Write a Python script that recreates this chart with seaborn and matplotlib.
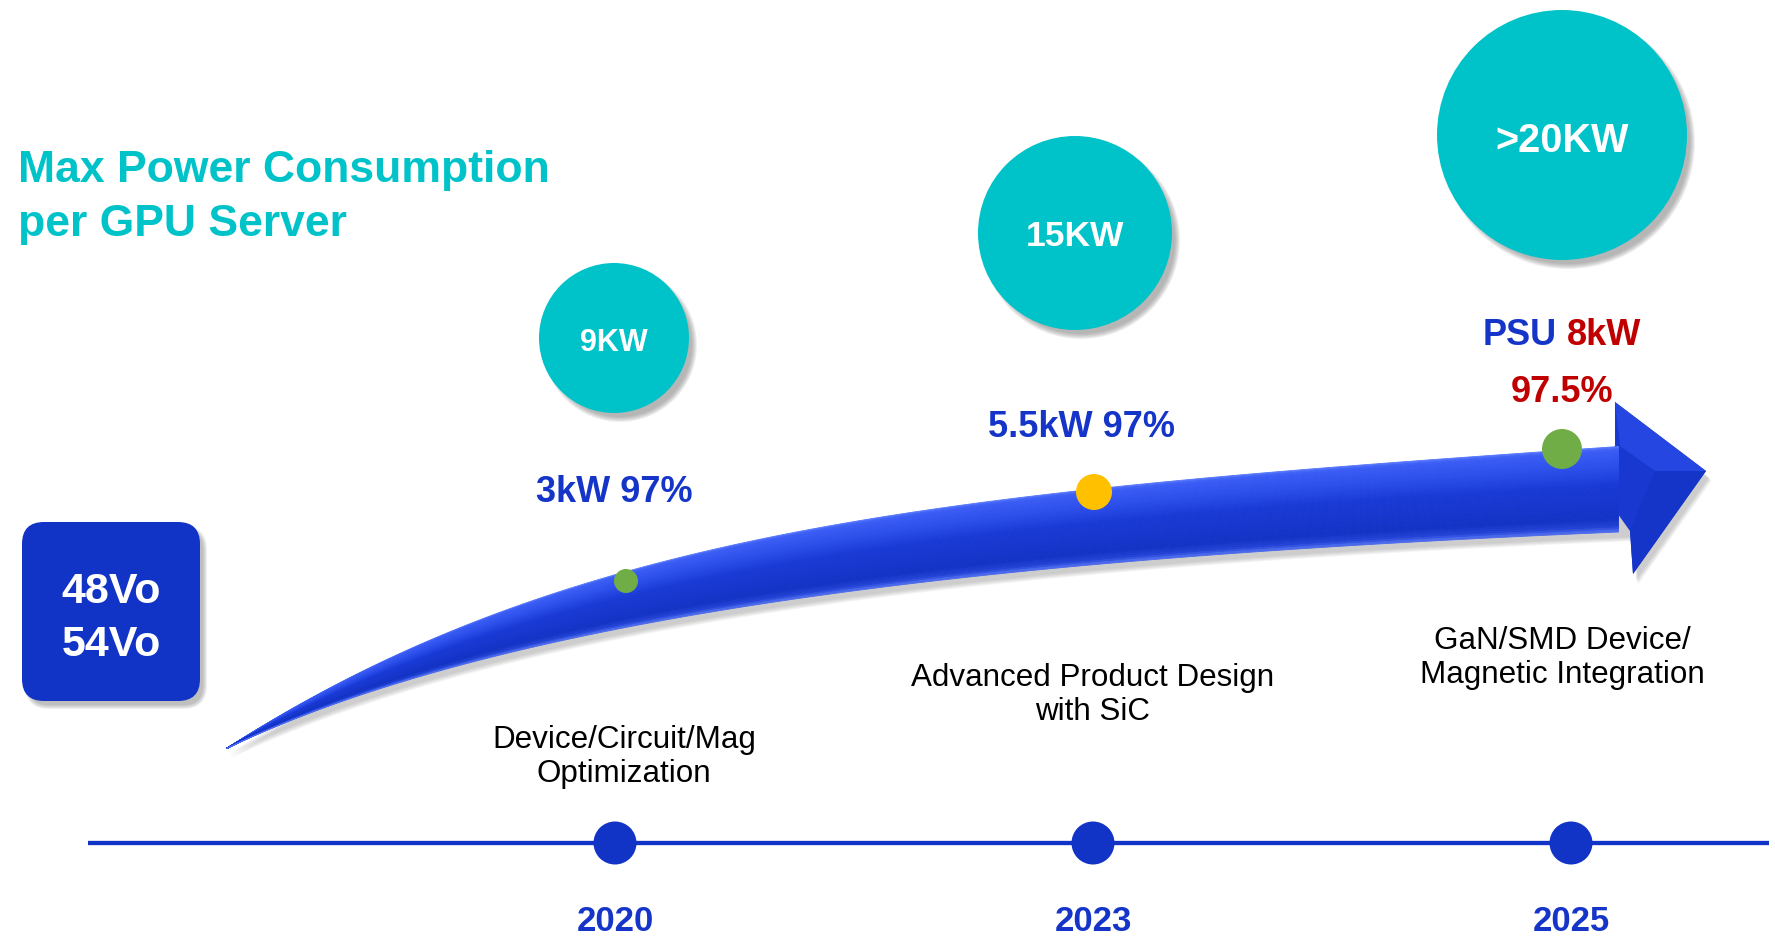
import numpy as np
import matplotlib
matplotlib.use("Agg")
import matplotlib.pyplot as plt
import seaborn as sns
import pandas as pd
from matplotlib.patches import Circle, FancyBboxPatch, Polygon
from matplotlib.colors import LinearSegmentedColormap

# ---------------- data ----------------
years = ["2020", "2023", "2025"]
server_power = ["9KW", "15KW", ">20KW"]
psu_power = ["3kW", "5.5kW", "8kW"]
psu_eff = ["97%", "97%", "97.5%"]
descriptions = ["Device/Circuit/Mag\nOptimization",
                "Advanced Product Design\nwith SiC",
                "GaN/SMD Device/\nMagnetic Integration"]
dot_colors = ["#70AD47", "#FFC000", "#70AD47"]
voltages = ["48Vo", "54Vo"]
title_lines = ["Max Power Consumption", "per GPU Server"]

# ---------------- layout (pixel space) ----------------
W, H = 1775, 937
year_x = [615, 1093, 1571]
line_y = 844
circ_x = [614, 1075, 1562]
circ_y = [339, 234, 136]
circ_r = [75, 97, 125]
circ_fs = [22, 25.5, 28.5]
circ_base = [351, 246, 152]
dot_x = [626, 1094, 1562]
dot_y = [582, 493, 450]
dot_r = [12, 18, 20]
desc_x = [624, 1093, 1562]
desc_base = [748, 686, 649]

BLUE = "#1133C6"
TXT_BLUE = "#1535C8"
RED = "#C00000"
TEAL = "#00C3C9"

sns.set_theme(style="white")
plt.rcParams["font.family"] = ["Liberation Sans", "DejaVu Sans"]

fig = plt.figure(figsize=(W / 100, H / 100), dpi=100)
ax = fig.add_axes([0, 0, 1, 1])
fig.patch.set_facecolor("white")


def soft_shadow_circle(cx, cy, r, dx=6, dy=7):
    for k in range(6):
        ax.add_patch(Circle((cx + dx, cy + dy), r + 2 - k, color="#6a6a6a",
                            alpha=0.1, lw=0, zorder=1))


# ---------------- title ----------------
ax.text(18, 182, title_lines[0], fontsize=32, fontweight="bold", color=TEAL,
        ha="left", va="baseline", zorder=10)
ax.text(18, 236, title_lines[1], fontsize=32, fontweight="bold", color=TEAL,
        ha="left", va="baseline", zorder=10)

# ---------------- voltage box ----------------
bx0, by0, bx1, by1, rad = 22, 523, 200, 702, 22
for k in range(5):
    ax.add_patch(FancyBboxPatch((bx0 + rad + 5, by0 + rad + 6),
                                bx1 - bx0 - 2 * rad, by1 - by0 - 2 * rad,
                                boxstyle=f"round,pad={rad + 2 - k}",
                                fc="#6a6a6a", ec="none", alpha=0.1, zorder=1))
ax.add_patch(FancyBboxPatch((bx0 + rad, by0 + rad), bx1 - bx0 - 2 * rad,
                            by1 - by0 - 2 * rad, boxstyle=f"round,pad={rad}",
                            fc=BLUE, ec="none", zorder=2))
for i, v in enumerate(voltages):
    ax.text(111, 603 + 53 * i, v, fontsize=31, fontweight="bold", color="white",
            ha="center", va="baseline", zorder=10)

# ---------------- big arrow ----------------
def bezier(p0, p1, p2, p3, n=400):
    t = np.linspace(0, 1, n)[:, None]
    p0, p1, p2, p3 = map(np.array, (p0, p1, p2, p3))
    pts = (1 - t) ** 3 * p0 + 3 * (1 - t) ** 2 * t * p1 + 3 * (1 - t) * t ** 2 * p2 + t ** 3 * p3
    return pts[:, 0], pts[:, 1]

tx, ty = bezier((226, 749), (576, 523), (965, 492), (1618, 447))
bxs, bys = bezier((226, 749), (546, 596), (1110, 554), (1630, 532))
xs = np.linspace(226, 1618, 500)
yt = np.interp(xs, tx, ty)
yb = np.interp(xs, bxs, bys)

head = [(1615, 447), (1615, 403), (1706, 472), (1633, 575), (1630, 532)]
outline = list(zip(xs, yt)) + head + list(zip(xs[::-1], yb[::-1]))
outline = np.array(outline)

# shadow
for k in range(5):
    ax.add_patch(Polygon(outline + np.array([3 + k * 0.6, 6 + k]), closed=True,
                         fc="#707070", ec="none", alpha=0.08, zorder=2))

# head
ax.add_patch(Polygon(head + [(1600, 490)], closed=True, fc="#1838D0", ec="none", zorder=3))
ax.add_patch(Polygon([(1615, 403), (1706, 472), (1655, 472), (1620, 447)],
                     closed=True, fc="#2646E2", ec="none", zorder=3.2))
ax.add_patch(Polygon([(1655, 472), (1706, 472), (1633, 575), (1630, 532)],
                     closed=True, fc="#1535C8", ec="none", zorder=3.1))

cmap = LinearSegmentedColormap.from_list(
    "arr", [(0, "#5a7cff"), (0.04, "#3b5df5"), (0.22, "#2d50ec"), (0.45, "#1a3ad6"),
            (0.85, "#1333c6"), (0.95, "#2444d8"), (1, "#5573f2")])
nb = 40
for i in range(nb):
    f0, f1 = i / nb, (i + 1) / nb
    c = cmap((f0 + f1) / 2)
    ax.fill_between(xs, yt + (yb - yt) * f0, yt + (yb - yt) * f1, color=c,
                    lw=0.6, ec=c, zorder=4)

# ---------------- power circles ----------------
for cx, cy, r, lab, fs, bl in zip(circ_x, circ_y, circ_r, server_power, circ_fs, circ_base):
    soft_shadow_circle(cx, cy, r)
    ax.add_patch(Circle((cx, cy), r, color=TEAL, lw=0, zorder=3))
    ax.text(cx, bl, lab, fontsize=fs, fontweight="bold", color="white",
            ha="center", va="baseline", zorder=10)

# ---------------- milestone dots on the arrow ----------------
dots = pd.DataFrame({"x": dot_x, "y": dot_y, "year": years})
sizes = {y: (2 * r * 0.72) ** 2 for y, r in zip(years, dot_r)}
sns.scatterplot(data=dots, x="x", y="y", hue="year", size="year",
                palette=dict(zip(years, dot_colors)), sizes=sizes,
                edgecolor="none", linewidth=0, legend=False, ax=ax, zorder=6)

# ---------------- PSU labels ----------------
ax.text(614, 502, f"{psu_power[0]} {psu_eff[0]}", fontsize=26, fontweight="bold",
        color=TXT_BLUE, ha="center", va="baseline", zorder=10)
ax.text(1082, 437, f"{psu_power[1]} {psu_eff[1]}", fontsize=26, fontweight="bold",
        color=TXT_BLUE, ha="center", va="baseline", zorder=10)
t_psu = ax.text(1483, 345, "PSU", fontsize=26, fontweight="bold", color=TXT_BLUE,
                ha="left", va="baseline", zorder=10)
ax.annotate(psu_power[2], xy=(1, 0), xycoords=t_psu, xytext=(7.2, 0),
            textcoords="offset points", fontsize=26, fontweight="bold", color=RED,
            ha="left", va="bottom", zorder=10)
ax.text(1562, 402, psu_eff[2], fontsize=26, fontweight="bold", color=RED,
        ha="center", va="baseline", zorder=10)

# ---------------- descriptions ----------------
for x0, b0, d in zip(desc_x, desc_base, descriptions):
    for j, line in enumerate(d.split("\n")):
        ax.text(x0, b0 + 34 * j, line, fontsize=22.6, color="black",
                ha="center", va="baseline", zorder=10)

# ---------------- timeline ----------------
ax.plot([88, 1769], [line_y, line_y], color=BLUE, lw=3.1, zorder=5,
        solid_capstyle="butt")
tl = pd.DataFrame({"x": year_x, "y": [line_y] * 3})
sns.scatterplot(data=tl, x="x", y="y", s=(43 * 0.72) ** 2, color=BLUE,
                edgecolor="none", linewidth=0, legend=False, ax=ax, zorder=6)
for x0, yr in zip(year_x, years):
    ax.text(x0, 931, yr, fontsize=25, fontweight="bold", color=TXT_BLUE,
            ha="center", va="baseline", zorder=10)

ax.set_xlim(0, W)
ax.set_ylim(H, 0)
ax.axis("off")
fig.savefig("out.png", dpi=100, facecolor="white")
